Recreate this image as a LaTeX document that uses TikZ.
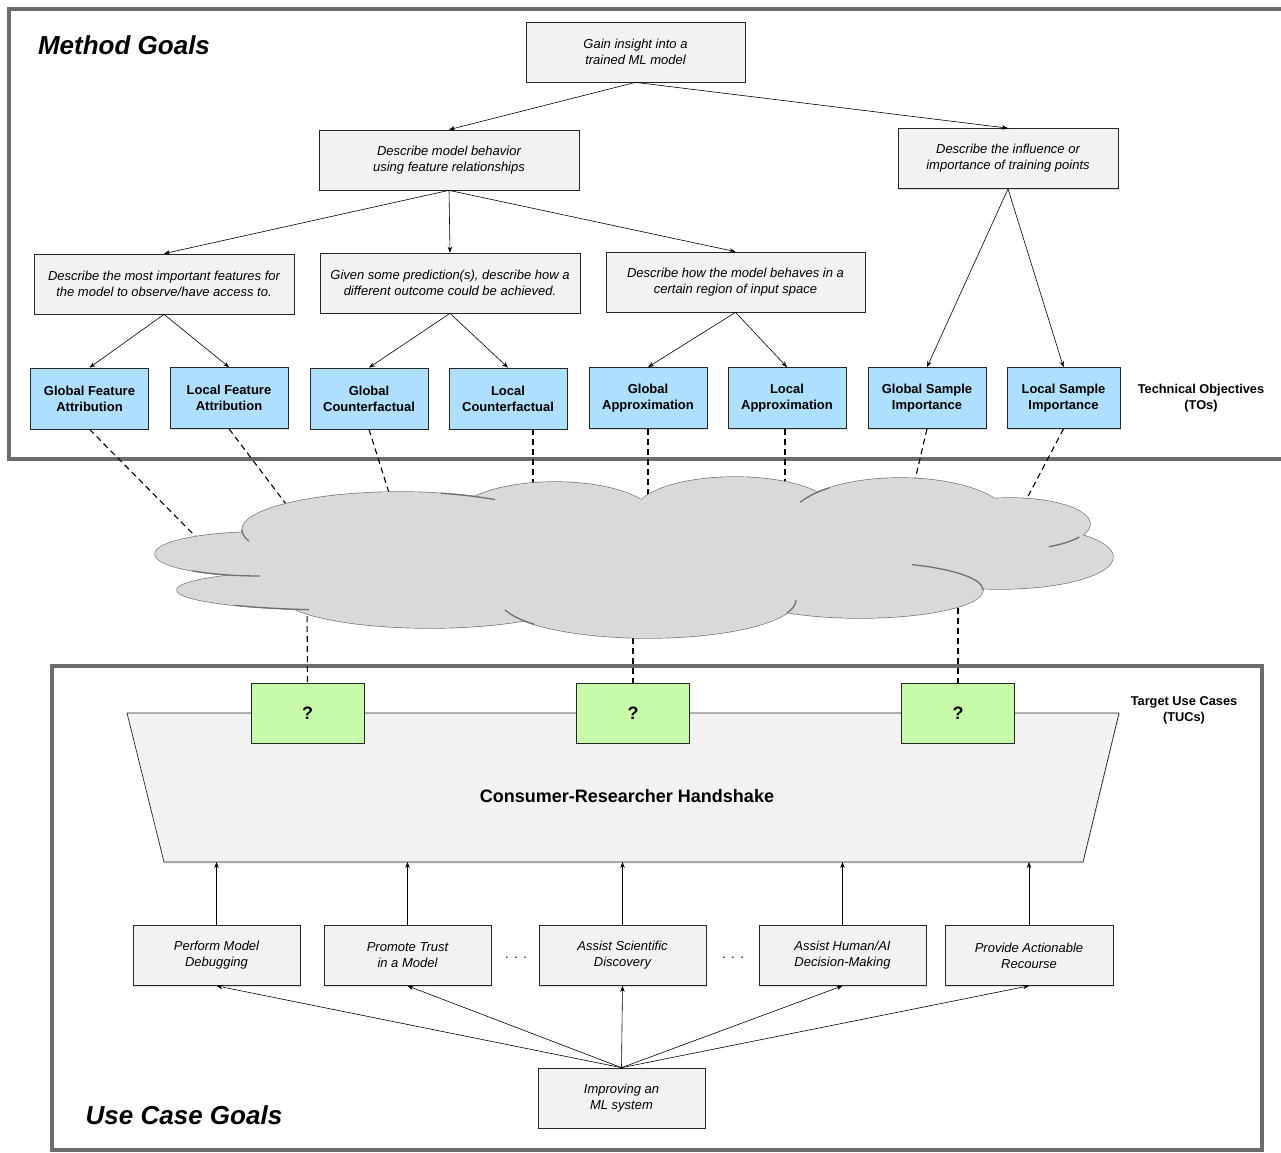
\documentclass[tikz,border=0pt]{standalone}
\usepackage{fontspec}
\setmainfont{Liberation Sans}
\usetikzlibrary{arrows.meta,shadows}

\definecolor{boxgray}{HTML}{F2F2F2}
\definecolor{toblue}{HTML}{AEDFFF}
\definecolor{tucgreen}{HTML}{C7FBA9}
\definecolor{cloudgray}{HTML}{D9D9D9}
\definecolor{cloudedge}{HTML}{707070}
\definecolor{framegray}{HTML}{6B6B6B}

\tikzset{
  goalbox/.style={draw=black!85, fill=boxgray, line width=0.7pt, minimum height=60pt,
    align=center, inner sep=0pt, font=\fontsize{13}{16}\selectfont\itshape,
    drop shadow={shadow xshift=0.8pt, shadow yshift=-1.3pt, opacity=0.25}},
  tobox/.style={goalbox, fill=toblue, minimum width=118pt, minimum height=61pt,
    font=\fontsize{13}{16}\selectfont\bfseries},
  tucbox/.style={goalbox, fill=tucgreen, minimum width=113pt,
    font=\fontsize{18}{20}\selectfont\bfseries},
  sidelabel/.style={align=center, font=\fontsize{12.8}{16}\selectfont\bfseries},
  bigtitle/.style={font=\fontsize{26}{30}\selectfont\bfseries\itshape},
  link/.style={-{Stealth[length=6pt,width=4.5pt]}, line width=0.6pt},
  tolink/.style={dash pattern=on 6pt off 4pt, line width=1.1pt},
  framebox/.style={draw=framegray, line width=3.5pt},
  cloudline/.style={draw=cloudedge, line width=1.3pt},
}

\begin{document}
\begin{tikzpicture}[x=1pt,y=-1pt]
\useasboundingbox (0,0) rectangle (1281,1152);

% frames
\draw[framebox] (9,9) rectangle (1295,459);
\draw[framebox] (52,666) rectangle (1262,1150);
\node[bigtitle] (mgoals) at (124,45) {Method Goals};
\node[bigtitle] (ugoals) at (184,1115) {Use Case Goals};

% method goals
\node[goalbox, minimum width=219pt] (gain) at (635.5,52) {Gain insight into a\\trained ML model};
\node[goalbox, minimum width=260pt] (dmb) at (449,160) {Describe model behavior\\using feature relationships};
\node[goalbox, minimum width=220pt] (dit) at (1008,158.5) {Describe the influence or\\importance of training points};
\node[goalbox, minimum width=260pt] (dmi) at (164,284) {Describe the most important features for\\the model to observe/have access to.};
\node[goalbox, minimum width=260pt] (gsp) at (450,283) {Given some prediction(s), describe how a\\different outcome could be achieved.};
\node[goalbox, minimum width=259pt] (dhb) at (735.5,282) {Describe how the model behaves in a\\certain region of input space};

% technical objectives
\node[tobox] (gfa) at (89.5,398.5) {Global Feature\\Attribution};
\node[tobox] (lfa) at (229,398) {Local Feature\\Attribution};
\node[tobox] (gcf) at (369,398.5) {Global\\Counterfactual};
\node[tobox] (lcf) at (508,398.5) {Local\\Counterfactual};
\node[tobox] (gap) at (648,398) {Global\\Approximation};
\node[tobox] (lap) at (787,398) {Local\\Approximation};
\node[tobox] (gsi) at (927,398) {Global Sample\\Importance};
\node[tobox, minimum width=113pt] (lsi) at (1063.5,398) {Local Sample\\Importance};
\node[sidelabel] (tos) at (1201,398) {Technical Objectives\\(TOs)};

\draw[link] (gain.south) -- (dmb.north);
\draw[link] (gain.south) -- (dit.north);
\draw[link] (dmb.south) -- (dmi.north);
\draw[link] (dmb.south) -- (gsp.north);
\draw[link] (dmb.south) -- (dhb.north);
\draw[link] (dit.south) -- (gsi.north);
\draw[link] (dit.south) -- (lsi.north);
\draw[link] (dmi.south) -- (gfa.north);
\draw[link] (dmi.south) -- (lfa.north);
\draw[link] (gsp.south) -- (gcf.north);
\draw[link] (gsp.south) -- (lcf.north);
\draw[link] (dhb.south) -- (gap.north);
\draw[link] (dhb.south) -- (lap.north);

% use case goals
\coordinate (hsbase) at (0,862);
\draw[draw=black!85, fill=boxgray, line width=0.7pt,
  drop shadow={shadow xshift=0.8pt, shadow yshift=-1.3pt, opacity=0.25}]
  (127,713) -- (1119,713) -- (1083,862) -- (164,862) -- cycle;
\node[font=\fontsize{18}{20}\selectfont\bfseries] (hs) at (627,796) {Consumer-Researcher Handshake};

\node[tucbox] (q1) at (307.5,713) {?};
\node[tucbox] (q2) at (633,713) {?};
\node[tucbox] (q3) at (958,713) {?};
\node[sidelabel] (tucs) at (1184,710) {Target Use Cases\\(TUCs)};

\node[goalbox, minimum width=167pt] (pmd) at (216.5,955.5) {Perform Model\\Debugging};
\node[goalbox, minimum width=167pt] (ptm) at (407.5,955.5) {Promote Trust\\in a Model};
\node[goalbox, minimum width=167pt] (asd) at (622.5,955.5) {Assist Scientific\\Discovery};
\node[goalbox, minimum width=167pt] (ahd) at (842.5,955.5) {Assist Human/AI\\Decision-Making};
\node[goalbox, minimum width=168pt] (par) at (1029,955.5) {Provide Actionable\\Recourse};
\node[font=\fontsize{13}{16}\selectfont] (dots1) at (516,958) {.\hspace{5.5pt}.\hspace{5.5pt}.};
\node[font=\fontsize{13}{16}\selectfont] (dots2) at (733,958) {.\hspace{5.5pt}.\hspace{5.5pt}.};
\node[goalbox, minimum width=167pt] (iml) at (621.5,1098) {Improving an\\ML system};

\foreach \b in {pmd,ptm,asd,ahd,par}
  \draw[link] (\b.north) -- (\b.north |- hsbase);
\foreach \b in {pmd,ptm,asd,ahd,par}
  \draw[link] (iml.north) -- (\b.south);

% cloud ends of the dashed links
\coordinate (c1) at (197,538);
\coordinate (c2) at (286,504);
\coordinate (c3) at (390,496);
\coordinate (c4) at (533,488);
\coordinate (c5) at (648,498);
\coordinate (c6) at (785,486);
\coordinate (c7) at (914,484);
\coordinate (c8) at (1024,504);
\coordinate (k1) at (307,606);
\coordinate (k2) at (633,628);
\coordinate (k3) at (958,598);

\draw[tolink] (gfa.south) -- (c1);
\draw[tolink] (lfa.south) -- (c2);
\draw[tolink] (gcf.south) -- (c3);
\draw[tolink] (lcf.south -| c4) -- (c4);
\draw[tolink] (gap.south) -- (c5);
\draw[tolink] (lap.south -| c6) -- (c6);
\draw[tolink] (gsi.south) -- (c7);
\draw[tolink] (lsi.south) -- (c8);
\draw[tolink] (k1) -- (q1.north);
\draw[tolink] (k2) -- (q2.north);
\draw[tolink] (k3) -- (q3.north);

% cloud
\foreach \cx/\cy/\rx/\ry in {260/554/105/22, 340/590/163/20, 400/530/158/38, 430/595/150/33,
    555/518/100/36, 735/512/100/35, 648/600/148/38, 900/520/110/42,
    1010/524/80/26, 1000/557/113/32, 860/590/123/28}
  \draw[cloudline] (\cx,\cy) ellipse [x radius=\rx pt, y radius=\ry pt];
\foreach \cx/\cy/\rx/\ry in {260/554/105/22, 340/590/163/20, 400/530/158/38, 430/595/150/33,
    555/518/100/36, 735/512/100/35, 648/600/148/38, 900/520/110/42,
    1010/524/80/26, 1000/557/113/32, 860/590/123/28, 620/560/330/45}
  \fill[cloudgray] (\cx,\cy) ellipse [x radius=\rx pt, y radius=\ry pt];
% inner bits of the bumps
\foreach \cx/\cy/\rx/\ry/\a/\b in {260/554/105/22/90/130, 400/530/158/38/180/163,
    400/530/158/38/-75/-53, 340/590/163/20/101/130, 900/520/110/42/-155/-130,
    1010/524/80/26/30/61, 860/590/123/28/-65/0, 648/600/148/38/140/165,
    648/600/148/38/0/20}
  \draw[cloudline] (\cx,\cy) ++(\a:{\rx} and {\ry}) arc[start angle=\a, end angle=\b, x radius=\rx, y radius=\ry];
\end{tikzpicture}
\end{document}
